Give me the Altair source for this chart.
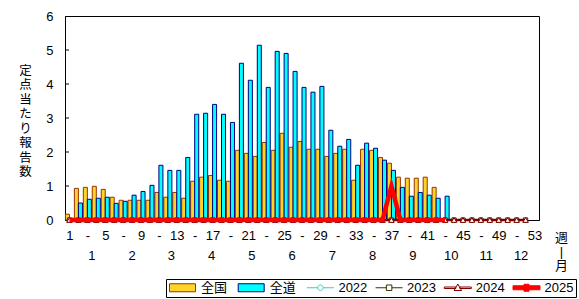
import altair as alt
import pandas as pd

FONT = "Liberation Sans, Noto Sans CJK JP"

# ---- data ----
bar_weeks = list(range(1, 44))
zenkoku = [0.17, 0.93, 0.96, 0.99, 0.90, 0.67, 0.58, 0.58, 0.58, 0.58,
           0.81, 0.67, 0.81, 0.64, 1.14, 1.26, 1.31, 1.17, 1.14, 2.05,
           1.96, 1.87, 2.28, 2.05, 2.55, 2.14, 2.31, 2.08, 2.08, 1.87,
           1.96, 2.08, 1.17, 2.08, 2.05, 1.84, 1.67, 1.26, 1.23, 1.23,
           1.26, 0.96, None]
zendo = [0.05, 0.50, 0.61, 0.64, 0.67, 0.49, 0.55, 0.73, 0.84, 1.02,
         1.61, 1.46, 1.46, 1.84, 3.11, 3.14, 3.40, 3.11, 2.87, 4.61,
         4.11, 5.14, 3.90, 4.96, 4.90, 4.37, 3.90, 3.76, 3.93, 2.64,
         2.17, 2.37, 1.61, 2.26, 2.11, 1.76, 1.46, 0.96, 0.70, 0.81,
         0.73, 0.64, 0.70]

prev_weeks = list(range(1, 53))
v2022 = [0, 0, 0, 0, 0, 0, 0, 0, 0, 0, 0, 0, 0, 0, 0, 0, 0, 0, 0, 0, 0, 0, 0, 0, 0, 0,
         0, 0, 0, 0, 0, 0, 0, 0, 0, 0, 0, 0, 0, 0, 0, 0, 0, 0, 0, 0, 0, 0, 0, 0, 0, 0]
v2023 = [0, 0, 0, 0, 0, 0, 0, 0, 0, 0, 0, 0, 0, 0, 0, 0, 0, 0, 0, 0, 0, 0, 0, 0, 0, 0,
         0, 0, 0, 0, 0, 0, 0, 0, 0, 0, 0, 0, 0, 0, 0, 0, 0, 0, 0, 0, 0, 0, 0, 0, 0, 0]
v2024 = [0, 0, 0, 0, 0, 0, 0, 0, 0, 0, 0, 0, 0, 0, 0, 0, 0, 0, 0, 0, 0, 0, 0, 0, 0, 0,
         0, 0, 0, 0, 0, 0, 0, 0, 0, 0, 0, 0, 0, 0, 0, 0, 0, 0, 0, 0, 0, 0, 0, 0, 0, 0]
cur_weeks = list(range(1, 44))
v2025 = [0, 0, 0, 0, 0, 0, 0, 0, 0, 0, 0, 0, 0, 0, 0, 0, 0, 0, 0, 0, 0, 0, 0, 0, 0, 0,
         0, 0, 0, 0, 0, 0, 0, 0, 0, 0, 1.0, 0, 0, 0, 0, 0, 0]

y_tick_values = [0, 1, 2, 3, 4, 5, 6]
inner_ticks = [1, 2, 3, 4, 5]
week_label_values = list(range(1, 54, 2))
month_labels = ["1", "2", "3", "4", "5", "6", "7", "8", "9", "10", "11", "12"]
month_pos = [3.5, 8.0, 12.4, 16.9, 21.4, 25.9, 30.4, 34.9, 39.4, 43.7, 47.6, 51.5]
y_title = ["定", "点", "当", "た", "り", "報", "告", "数"]

legend_series = ["全国", "全道", "2022", "2023", "2024", "2025"]
legend_fill = ["#FFD42A", "#00FFFF", "#FFFFFF", "#FFFFFF", "#FFFFFF", "#FF0000"]
legend_stroke = ["#993300", "#000080", "#33CCCC", "#333300", "#800000", "#FF0000"]
legend_shapes = [
    "M-1,-0.8H4.2V0.8H-1Z",
    "M-1,-0.8H4.2V0.8H-1Z",
    "M-1,0H1.15M2.25,0H4.4M1.15,0A0.55,0.55,0,1,0,2.25,0A0.55,0.55,0,1,0,1.15,0Z",
    "M-1,0H1.15M2.25,0H4.4M1.15,-0.55H2.25V0.55H1.15Z",
    "M-1,-0.15H1.3V0.15H-1ZM2.1,-0.15H4.4V0.15H2.1ZM1.7,-0.75L2.45,0.55H0.95Z",
    "M-1,-0.4H4.4V0.4H-1ZM1.2,-0.7H2.2V0.7H1.2Z",
]

# ---- tables ----
bars_df = pd.DataFrame({"week": bar_weeks, "nat": zenkoku, "hok": zendo})
prev_df = pd.DataFrame({"week": prev_weeks, "v2022": v2022, "v2023": v2023, "v2024": v2024})
cur_df = pd.DataFrame({"week": cur_weeks, "v2025": v2025})
month_df = pd.DataFrame({"pos": month_pos, "label": month_labels})
tick_df = pd.DataFrame({"v": inner_ticks})
legend_df = pd.DataFrame({"series": legend_series})

xscale = alt.Scale(domain=[0.5, 53.5], nice=False, zero=False)
yscale = alt.Scale(domain=[0, 6], nice=False, zero=True)

xaxis = alt.Axis(
    values=week_label_values,
    labelExpr="datum.value % 4 == 1 ? datum.value : '-'",
    labelFontSize=13, labelFont=FONT, labelColor="black", labelPadding=9,
    labelFlush=False, labelOverlap=False, labelAngle=0,
    ticks=False, grid=False, domainColor="black", domainWidth=1,
    title=["週", "|", "月"], titleX=496, titleY=17, titleAngle=0,
    titleAlign="center", titleBaseline="middle", titleFont=FONT,
    titleFontSize=13, titleFontWeight="normal", titleLineHeight=14,
    titleColor="black",
)
yaxis = alt.Axis(
    values=y_tick_values, labelFontSize=13, labelFont=FONT, labelColor="black",
    labelPadding=12, ticks=False, grid=False, domainColor="black", domainWidth=1,
    title=y_title, titleAngle=0, titleX=-40, titleY=54, titleAlign="center",
    titleBaseline="middle", titleFont=FONT, titleFontSize=12.5,
    titleFontWeight="normal", titleLineHeight=14.5, titleColor="black",
)


def X(field):
    return alt.X(field, scale=xscale, axis=xaxis)


def Y(field):
    return alt.Y(field, scale=yscale, axis=yaxis)


bar_nat = alt.Chart(bars_df).transform_filter("isValid(datum.nat)").transform_calculate(
    x0="datum.week - 0.45", x1="datum.week"
).mark_bar(fill="#FFD42A", stroke="#993300", strokeWidth=1).encode(
    x=X("x0:Q"), x2="x1:Q", y=Y("nat:Q"), y2=alt.datum(0),
)

bar_hok = alt.Chart(bars_df).transform_filter("isValid(datum.hok)").transform_calculate(
    x0="datum.week", x1="datum.week + 0.45"
).mark_bar(fill="#00FFFF", stroke="#000080", strokeWidth=1).encode(
    x=X("x0:Q"), x2="x1:Q", y=Y("hok:Q"), y2=alt.datum(0),
)


def line_layer(df, field, color, width, shape=None, size=20, mstroke=None):
    base = alt.Chart(df).encode(x=X("week:Q"), y=Y(f"{field}:Q"))
    layers = [base.mark_line(color=color, strokeWidth=width)]
    if shape is not None:
        layers.append(base.mark_point(shape=shape, size=size, filled=True, fill="white",
                                      stroke=mstroke or color, strokeWidth=1, opacity=1))
    return layers


l2022 = line_layer(prev_df, "v2022", "#33CCCC", 1, "circle", 18, "#336699")
l2023 = line_layer(prev_df, "v2023", "#333300", 1, "square", 18, "#333300")
l2024 = line_layer(prev_df, "v2024", "#800000", 2.5, "triangle-up", 30, "#800000")
l2025 = line_layer(cur_df, "v2025", "#FF0000", 4.5)

ticks = alt.Chart(tick_df).mark_rule(color="black", strokeWidth=1).encode(
    y=Y("v:Q"), x=alt.value(0), x2=alt.value(4),
)

months = alt.Chart(month_df).mark_text(
    fontSize=13, font=FONT, color="black", baseline="middle", align="center"
).encode(
    x=X("pos:Q"), y=alt.value(240), text="label:N",
)

leg = alt.Legend(
    title=None, orient="none", legendX=101, legendY=263, direction="horizontal",
    columns=6, symbolSize=100, symbolStrokeWidth=1, labelFontSize=13,
    labelFont=FONT, labelColor="black", labelOffset=20,
    columnPadding=5.7, gridAlign="all", padding=2, strokeColor="black", fillColor="white",
)
legend_layer = alt.Chart(legend_df).transform_filter("datum.series == 'none'").mark_point(
    filled=True, opacity=1
).encode(
    fill=alt.Fill("series:N", scale=alt.Scale(domain=legend_series, range=legend_fill), legend=leg),
    stroke=alt.Stroke("series:N", scale=alt.Scale(domain=legend_series, range=legend_stroke), legend=leg),
    shape=alt.Shape("series:N", scale=alt.Scale(domain=legend_series, range=legend_shapes), legend=leg),
)

chart = alt.layer(
    bar_nat, bar_hok, *l2022, *l2023, *l2024, *l2025, ticks, months, legend_layer
).properties(
    width=474, height=204,
    autosize=alt.AutoSizeParams(type="none"),
    padding={"left": 65, "top": 16, "right": 40, "bottom": 79},
    background="white",
).configure_view(stroke="black", strokeWidth=1)

chart.save("out.html", embed_options={"renderer": "svg", "actions": False})
